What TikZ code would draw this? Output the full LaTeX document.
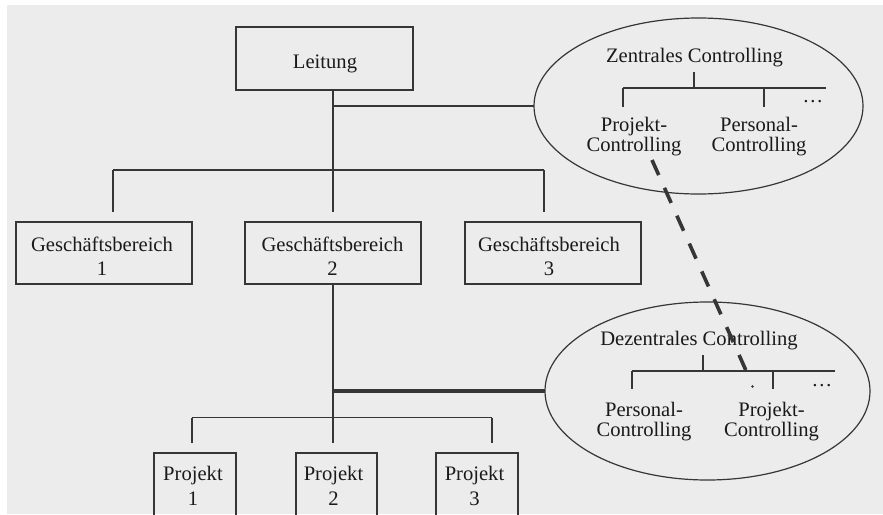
\documentclass[tikz,border=0pt]{standalone}
\usepackage{fontspec}
\setmainfont{Liberation Serif}
\usetikzlibrary{shapes.geometric}

\definecolor{paper}{HTML}{ECECEC}
\definecolor{ink}{HTML}{363636}
\definecolor{txt}{HTML}{1A1A1A}

\begin{document}
\begin{tikzpicture}[x=1pt, y=-1pt,
  every node/.style={inner sep=0pt, outer sep=0pt, text=txt,
    font=\fontsize{20.6}{24}\selectfont},
  orgbox/.style={draw=ink, line width=1.2pt, rectangle},
  cloud/.style={draw=ink, line width=1.2pt, ellipse},
  lbl/.style={align=center, anchor=north},
  tightlbl/.style={align=center, anchor=north, font=\fontsize{20.6}{20}\selectfont},
  baselbl/.style={anchor=base},
  link/.style={draw=ink, line width=1.2pt},
  gap/.style={shorten >=10pt},
  strong/.style={draw=ink, line width=3.8pt},
  dashlink/.style={draw=ink, line width=3.6pt, dash pattern=on 16.5pt off 14pt}
]
\useasboundingbox (0,0) rectangle (883,514);
\clip (0,0) rectangle (883,514);
\fill[white] (0,0) rectangle (883,514);
\fill[paper] (7,5) rectangle (883,514);

% ---- top of the hierarchy
\node[orgbox, minimum width=177pt, minimum height=63pt] (lt) at (324.5,58.5) {};
\node[baselbl] (ltx) at (325,68.3) {Leitung};

% ---- business units
\node[orgbox, minimum width=176pt, minimum height=62pt] (gb1) at (104,253) {};
\node[orgbox, minimum width=176pt, minimum height=62pt] (gb2) at (333,253) {};
\node[orgbox, minimum width=176pt, minimum height=62pt] (gb3) at (553,253) {};
\node[lbl] (gb1x) at (102,237) {Geschäftsbereich\\1};
\node[lbl] (gb2x) at (332.5,237) {Geschäftsbereich\\2};
\node[lbl] (gb3x) at (549,237) {Geschäftsbereich\\3};

% ---- projects
\node[orgbox, minimum width=82pt, minimum height=65pt] (p1) at (195,485.5) {};
\node[orgbox, minimum width=81pt, minimum height=65pt] (p2) at (336.5,485.5) {};
\node[orgbox, minimum width=82pt, minimum height=65pt] (p3) at (477,485.5) {};
\node[lbl, font=\fontsize{20.6}{25}\selectfont] (p1x) at (193,466) {Projekt\\1};
\node[lbl, font=\fontsize{20.6}{25}\selectfont] (p2x) at (333.5,466) {Projekt\\2};
\node[lbl, font=\fontsize{20.6}{25}\selectfont] (p3x) at (474.5,466) {Projekt\\3};

% ---- central controlling
\node[cloud, minimum width=329pt, minimum height=176pt] (zc) at (698.5,106) {};
\node[baselbl] (zct) at (694.5,62.7) {Zentrales Controlling};
\node[tightlbl] (zp) at (634,117.3) {Projekt-\\Controlling};
\node[tightlbl] (zq) at (759,117.3) {Personal-\\Controlling};
\node[baselbl] (zd) at (813,102) {\dots};
\coordinate (zt) at (694,72);
\coordinate (zj) at (694,88);
\coordinate (zl) at (623,88);
\coordinate (zm) at (764,88);
\coordinate (zr) at (826,88);
\draw[link] (zt) -- (zj);
\draw[link] (zl) -- (zr);
\draw[link] (zl) -- ++(0,19);
\draw[link] (zm) -- ++(0,19);

% ---- decentral controlling
\node[cloud, minimum width=325pt, minimum height=178pt] (dc) at (707.5,391) {};
\node[baselbl] (dct) at (699,345) {Dezentrales Controlling};
\node[tightlbl] (dq) at (644,402.7) {Personal-\\Controlling};
\node[tightlbl] (dp) at (771.5,402.7) {Projekt-\\Controlling};
\node[baselbl] (dd) at (822,386) {\dots};
\coordinate (dt) at (703,355);
\coordinate (dj) at (703,371);
\coordinate (dl) at (632,371);
\coordinate (dm) at (773,371);
\coordinate (dr) at (835,371);
\draw[link] (dt) -- (dj);
\draw[link] (dl) -- (dr);
\draw[link] (dl) -- ++(0,18);
\draw[link] (dm) -- ++(0,18);

% ---- connectors of the hierarchy
\draw[link, gap] (lt.south -| gb2.north) -- (gb2.north);
\draw[link] (gb2.north |- zc.west) -- (zc.west);
\coordinate (b1) at (113,170);
\coordinate (b3) at (544,170);
\draw[link] (b1) -- (b3);
\draw[link, gap] (b1) -- (b1 |- gb1.north);
\draw[link, gap] (b3) -- (b3 |- gb3.north);

\draw[link, gap] (gb2.south) -- (gb2.south |- p2.north);
\coordinate (c1) at (192,417.5);
\coordinate (c3) at (492,417.5);
\draw[link] (c1) -- (c3);
\draw[link, gap] (c1) -- (c1 |- p1.north);
\draw[link, gap] (c3) -- (c3 |- p3.north);

\draw[strong] (gb2.south |- dc.west) -- (dc.west);

% ---- dashed link between the two project controllings
\coordinate (zs) at (652,160);
\coordinate (ze) at (748,375);
\draw[dashlink] (zs) -- (ze);
\fill[ink] (752.5,386.5) circle (1.4pt);
\end{tikzpicture}
\end{document}
